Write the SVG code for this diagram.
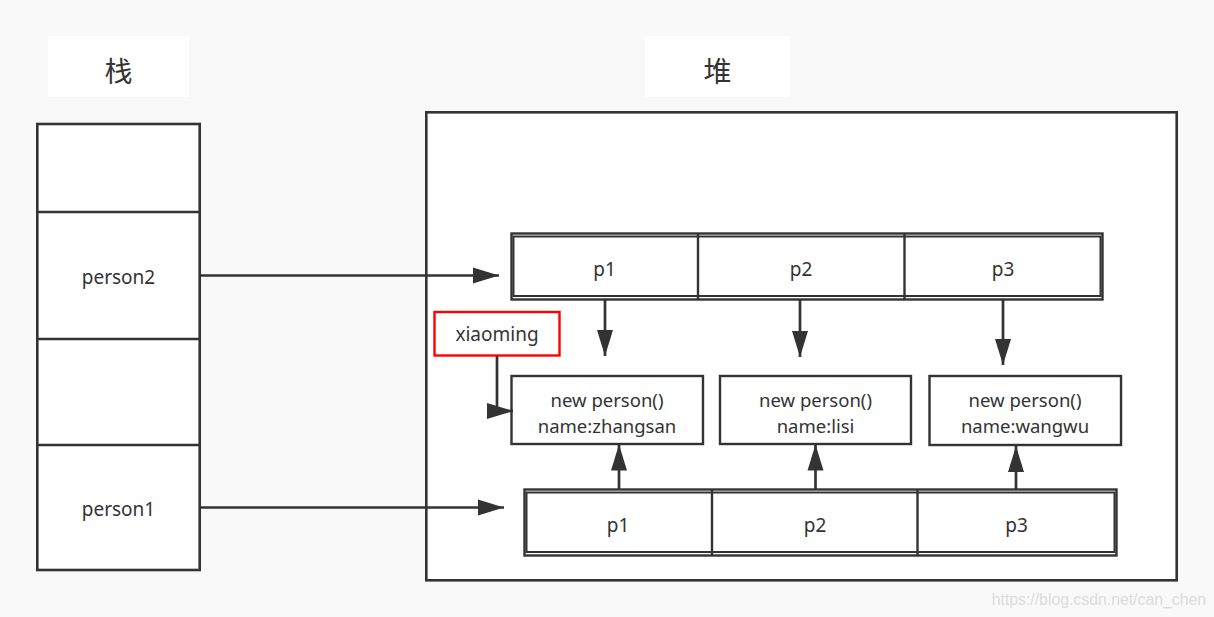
<svg xmlns="http://www.w3.org/2000/svg" width="1214" height="617" viewBox="0 0 1214 617">
<style>
.frame{fill:#ffffff;stroke:#333333;stroke-width:2.6}
.cell{fill:#ffffff;stroke:#333333;stroke-width:2.4}
.inner{fill:none;stroke:#333333;stroke-width:2}
.title{fill:#ffffff;stroke:none}
.t{font-family:"Noto Sans","Open Sans","DejaVu Sans",sans-serif;font-size:19px;fill:#333333;text-anchor:middle;dominant-baseline:central}
.t2{font-family:"Noto Sans","Open Sans","DejaVu Sans",sans-serif;font-size:18.5px;fill:#333333;text-anchor:middle;dominant-baseline:central}
.cjk{font-family:"Noto Sans CJK SC","Noto Sans",sans-serif;font-size:28px;fill:#333333;text-anchor:middle;dominant-baseline:central}
.conn{fill:none;stroke:#333333;stroke-width:2.7;marker-end:url(#arr)}
.wm{font-family:"Liberation Sans",Arial,sans-serif;font-size:15.8px;fill:#dcdcdc;text-anchor:end}
</style>
<defs>
<marker id="arr" markerUnits="userSpaceOnUse" markerWidth="27" markerHeight="18" refX="26" refY="8.5" orient="auto">
<path d="M0,0.5 L26,8.5 L0,16.5 z" fill="#333333"/>
</marker>
</defs>
<rect x="0" y="0" width="1214" height="617" fill="#f9f9f9"/>

<g id="stack-title">
<rect class="title" x="48" y="36" width="141" height="61"/>
<text class="cjk" x="118.5" y="70">栈</text>
</g>
<g id="heap-title">
<rect class="title" x="645" y="36" width="145" height="61"/>
<text class="cjk" x="717.5" y="70">堆</text>
</g>

<g id="stack">
<rect class="frame" x="37.3" y="124" width="162.4" height="446"/>
<line x1="37" y1="212" x2="200" y2="212" stroke="#333333" stroke-width="2.4"/>
<line x1="37" y1="339" x2="200" y2="339" stroke="#333333" stroke-width="2.4"/>
<line x1="37" y1="445" x2="200" y2="445" stroke="#333333" stroke-width="2.4"/>
<text class="t" x="118.5" y="277">person2</text>
<text class="t" x="118.5" y="509">person1</text>
</g>

<g id="heap">
<rect class="frame" x="426.3" y="112.3" width="750.4" height="468"/>
</g>

<g id="top-row">
<rect class="cell" x="511.5" y="233.5" width="591" height="66"/>
<rect class="inner" x="513.5" y="236.5" width="587" height="59.5"/>
<line x1="698" y1="234" x2="698" y2="299" stroke="#333333" stroke-width="2.4"/>
<line x1="904.5" y1="234" x2="904.5" y2="299" stroke="#333333" stroke-width="2.4"/>
<text class="t" x="604.5" y="269">p1</text>
<text class="t" x="801" y="269">p2</text>
<text class="t" x="1003" y="269">p3</text>
</g>

<g id="bottom-row">
<rect class="cell" x="524.5" y="489.5" width="592" height="66"/>
<rect class="inner" x="526.5" y="492.5" width="588" height="59.5"/>
<line x1="712" y1="490" x2="712" y2="555" stroke="#333333" stroke-width="2.4"/>
<line x1="917.5" y1="490" x2="917.5" y2="555" stroke="#333333" stroke-width="2.4"/>
<text class="t" x="618" y="525">p1</text>
<text class="t" x="815" y="525">p2</text>
<text class="t" x="1016.5" y="525">p3</text>
</g>

<g id="obj-zhangsan">
<rect class="cell" x="511.5" y="376" width="191.5" height="68"/>
<text class="t2" x="607" y="399.5">new person()</text>
<text class="t2" x="607" y="425.5">name:zhangsan</text>
</g>
<g id="obj-lisi">
<rect class="cell" x="720" y="376" width="191" height="68"/>
<text class="t2" x="815.5" y="399.5">new person()</text>
<text class="t2" x="815.5" y="425.5">name:lisi</text>
</g>
<g id="obj-wangwu">
<rect class="cell" x="929.5" y="376" width="191.5" height="69"/>
<text class="t2" x="1025" y="399.5">new person()</text>
<text class="t2" x="1025" y="425.5">name:wangwu</text>
</g>

<g id="xiaoming">
<rect x="434.5" y="312" width="125" height="43.5" fill="#ffffff" stroke="#ff0000" stroke-width="2.4"/>
<text class="t" x="497" y="334">xiaoming</text>
</g>

<g id="connectors">
<path class="conn" d="M200,275.5 L499,275.5"/>
<path class="conn" d="M200,507.5 L504,507.5"/>
<path class="conn" d="M497,356 L497,411 L513,411"/>
<path class="conn" d="M605,300 L605,356"/>
<path class="conn" d="M800,300 L800,357"/>
<path class="conn" d="M1003,300 L1003,365"/>
<path class="conn" d="M619,489 L619,444.5"/>
<path class="conn" d="M815.5,489 L815.5,444.5"/>
<path class="conn" d="M1016,489 L1016,446"/>
</g>

<text class="wm" x="1206" y="605">https://blog.csdn.net/can_chen</text>
</svg>
